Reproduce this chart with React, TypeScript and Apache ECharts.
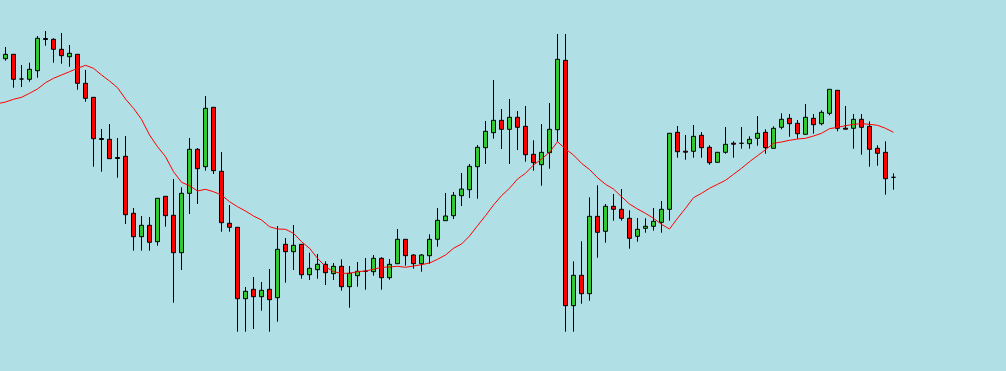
import React, { useEffect, useRef } from "react";
import * as echarts from "echarts";

// price units (arbitrary), 112 bars
const opens = [
  312.3, 316.7, 292, 291.7, 300.3, 332.5, 331.7, 321.7, 314.3, 316.7,
  287.7, 273.7, 232.5, 231.7, 213.5, 214.7, 157.7, 134.3, 145.7, 129.3,
  174.7, 155.7, 118.3, 177.7, 221.7, 204.3, 263.7, 199.7, 147.7, 143.7,
  72.3, 81.7, 74.3, 81.7, 73.3, 126.7, 119.3, 126.7, 96.3, 101.3,
  106.7, 97.3, 104.7, 84.3, 95.3, 99.7, 99.3, 112.7, 93.3, 107.3,
  131.7, 116, 107.3, 115.3, 131.7, 150.3, 155.3, 175.3, 181.3, 204.3,
  223.3, 238.3, 250.7, 241.7, 253.7, 244.7, 216.7, 206.3, 218.3, 241.3,
  310.7, 65.3, 95.7, 77.3, 154.7, 139.7, 164.7, 161.7, 152.7, 134.7,
  142.7, 144.7, 148.7, 161.7, 238.7, 219.8, 219.7, 235.7, 223.7, 208.7,
  218.7, 227.8, 227.7, 227.3, 232.7, 238.7, 222.7, 243.7, 252.7, 247.7,
  236.7, 252.7, 247.3, 257.7, 280.7, 242.8, 242.7, 251.7, 244.7, 222.7,
  218.7, 193.7,
];
const closes = [
  316.7, 291.7, 292, 301.7, 332.7, 331.5, 321.7, 315.3, 317.7, 287.7,
  272.7, 232.3, 231.5, 212.3, 212.5, 156.3, 134.3, 145.7, 128.7, 172.7,
  155.3, 118.3, 177.7, 221.7, 202.3, 262.7, 200.3, 148.3, 143.7, 72.3,
  79.7, 74.3, 80.7, 71.3, 121.7, 119.3, 125.7, 96.3, 102.7, 106.7,
  98.3, 104.7, 84.3, 97.7, 99.7, 99.7, 112.7, 93.3, 106.7, 131.7,
  115.3, 107.3, 116, 131.7, 150.7, 155, 175.7, 182, 204.7, 223.7,
  239.7, 250.7, 241.7, 253.7, 243.7, 216.3, 208.3, 218.7, 241.7, 311.7,
  65.3, 95.7, 77.3, 154.7, 138.7, 164.7, 161.7, 152.7, 132.7, 141.7,
  144.7, 149.7, 161.7, 237.7, 219.3, 218.8, 234.7, 223.3, 208.3, 218.7,
  226.7, 226.8, 227.7, 231.7, 237.7, 223.3, 242.7, 251.7, 247.3, 237.3,
  253.7, 246.3, 258.7, 281.7, 242.7, 241.8, 251.7, 243.7, 221.7, 217.7,
  192.3, 193.7,
];
const lows = [
  310.3, 283.3, 284, 289.3, 293.3, 325.3, 308.3, 307.3, 304.3, 281.3,
  269.3, 204.3, 199.3, 212.3, 193.3, 147, 120.3, 120.3, 120.3, 125.3,
  144.3, 68.3, 101, 157, 167, 200.3, 197, 139.3, 139.3, 39.3,
  39.3, 42, 60.3, 39.3, 49.3, 88.3, 101, 92.3, 91, 92.3,
  86, 91, 80.3, 63.3, 84.3, 81.3, 95.3, 81.3, 91.3, 107.3,
  105.3, 102.3, 99.3, 107.3, 124.3, 150.3, 152, 165, 173, 172.3,
  207, 232.3, 222, 207, 221, 209.3, 200.3, 185.3, 202.3, 229.3,
  39.3, 39.3, 67.3, 70.3, 113.3, 128.3, 150.3, 150.3, 122.3, 129.3,
  138.3, 140.3, 138.3, 150.3, 213.3, 211.3, 213.3, 213.3, 206.3, 208.7,
  217.3, 213.3, 222.3, 222.3, 225.3, 217.3, 222.7, 241.7, 234.3, 232.3,
  236.7, 237.3, 245.7, 255.7, 239.7, 241.7, 222.3, 216.3, 204.3, 205.3,
  176.3, 181.3,
];
const highs = [
  324, 316.7, 306, 308.3, 335, 340, 332.7, 338, 326, 316.7,
  301, 273.7, 242, 247, 233, 235, 163, 155, 154, 172.7,
  174.7, 192, 183.7, 233, 223, 275, 263.7, 219, 166, 143.7,
  84, 94, 89, 102, 145, 133, 146, 126.7, 118.3, 117,
  109.7, 108, 111.7, 105, 109, 113, 116, 113.7, 112, 142,
  131.7, 116.7, 117, 136.7, 163, 178, 179, 198, 207, 226,
  250, 291, 262, 272, 260, 265, 230.7, 247, 268, 337,
  337, 109.7, 129.7, 173.7, 185.7, 167, 177, 182, 160.7, 153,
  152.7, 163, 170, 237.7, 245, 236, 246, 239, 225.7, 218.7,
  244, 229.7, 244, 234.7, 255, 241.7, 244.7, 257.7, 257, 251,
  267, 257, 260.7, 281.7, 280.7, 265, 257, 257, 249.7, 225.7,
  229.7, 197.7,
];
// moving average; maPrev belongs to the bar just left of the view
const maPrev = 267.3;
const maValues = [
  269, 271.7, 273.7, 277.7, 282, 288.3, 292.7, 296, 299.3, 302.7,
  305.7, 302.7, 296, 290, 283.3, 272, 262.7, 251.7, 236, 224.3,
  214.3, 199.3, 188.7, 185.3, 180, 181.7, 179.3, 176, 169.3, 164.3,
  160, 155, 151, 144.3, 142, 141.7, 137.7, 129.3, 122.7, 112.7,
  104.3, 99.3, 97.7, 97.7, 99.3, 100, 101.7, 103.7, 104, 104.7,
  103.7, 105, 106.3, 108, 111.7, 116, 122.7, 127, 135, 145.3,
  155.3, 166, 175.3, 182.7, 192, 197.7, 206, 212, 218.7, 229.3,
  222, 216, 207.7, 201.5, 193.3, 186.7, 182, 174.3, 167, 162,
  157.7, 152.7, 146.7, 142, 152.7, 162.7, 173.3, 177.7, 182.7, 186.7,
  190.7, 196.7, 202.7, 209.3, 215.3, 221.3, 227.7, 229, 230.7, 232,
  232.7, 235, 237.7, 242.3, 243.7, 245.3, 246.7, 247.3, 246.7, 245.7,
  242.7, 238.7,
];

// bar index range visible in the window (8 px per bar)
const X_MIN = -0.6875;
const X_MAX = 125.0625;
const Y_MIN = 0;
const Y_MAX = 371;

export default function App() {
  const ref = useRef<HTMLDivElement>(null);
  useEffect(() => {
    if (!ref.current) return;
    const chart = echarts.init(ref.current, undefined, { renderer: "svg" });
    const candles = opens.map((o, i) => [i, o, closes[i], lows[i], highs[i]]);
    const ma: number[][] = [[-1, maPrev]];
    maValues.forEach((v, i) => ma.push([i, v]));
    chart.setOption({
      animation: false,
      backgroundColor: "#b0e0e6",
      grid: { left: 0, top: 0, right: 0, bottom: 0, containLabel: false },
      xAxis: { type: "value", min: X_MIN, max: X_MAX, show: false },
      yAxis: { type: "value", min: Y_MIN, max: Y_MAX, show: false },
      series: [
        {
          type: "candlestick",
          data: candles,
          encode: { x: 0, y: [1, 2, 3, 4] },
          barWidth: 4,
          itemStyle: {
            color: "#32c832",
            color0: "#ff0000",
            borderColor: "#000000",
            borderColor0: "#000000",
            borderColorDoji: "#000000",
            borderWidth: 1,
          },
          z: 2,
        },
        {
          type: "line",
          data: ma,
          symbol: "none",
          smooth: false,
          lineStyle: { color: "#ff0000", width: 1 },
          z: 3,
        },
      ],
    });
    return () => chart.dispose();
  }, []);
  return (
    <div
      ref={ref}
      style={{ position: "fixed", left: 0, top: 0, width: 1006, height: 371 }}
    />
  );
}
